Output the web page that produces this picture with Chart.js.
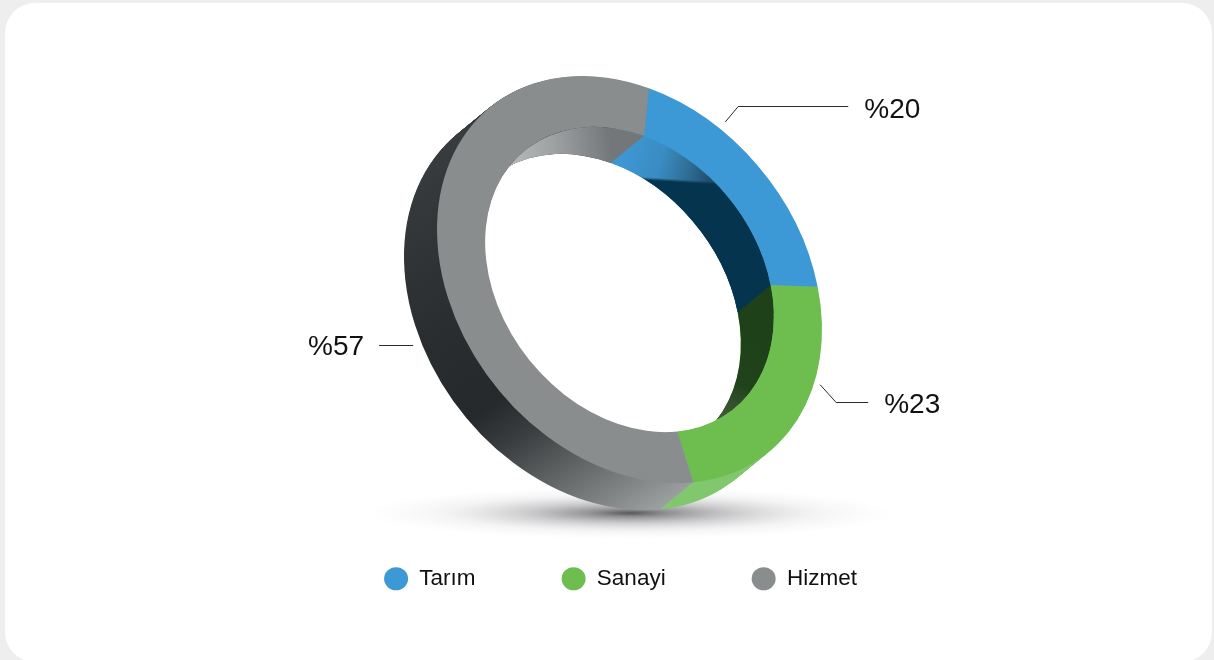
<!DOCTYPE html>
<html lang="tr">
<head>
<meta charset="utf-8">
<title>Tarım Sanayi Hizmet</title>
<script src="https://cdn.jsdelivr.net/npm/chart.js@4/dist/chart.umd.min.js"></script>
<style>
html,body{margin:0;padding:0;width:1214px;height:660px;overflow:hidden;background:#eeeeef;}
#card{position:absolute;left:5px;top:3px;width:1207px;height:659px;background:#fff;border-radius:30px;}
#c{position:absolute;left:27px;top:0;}
</style>
</head>
<body>
<div id="card"></div>
<canvas id="c" width="1187" height="600"></canvas>
<script>
const categories = ['Tarım', 'Sanayi', 'Hizmet'];
const shares = [20, 23, 57];
const sliceColors = ['#3c99d5', '#6ebe4f', '#8a8d8e'];

// ---- look of the tilted ring (style only) ----
const CANVAS_LEFT = 27;
const RING = {x: 629.5, y: 279.5, a: 192.5, b: 50, d: 197.3};
const DEPTH = {x: -33, y: 27, steps: 50};
const leaderFraction = [0.31, 0.332, 0.411];
const leaderOnBack = [false, false, true];
const leaderNudge = [[5, -7], [5, 5], [-9, 0]];
const leaderElbow = [[13, -16], [16, 17], [0, 0]];
const leaderRun = [110, 32, -34];
const labelGap = [16, 16, -15];
const labelDrop = [4, 3, 2];
const LABEL_FONT = '28px "Liberation Sans", Arial, sans-serif';

function lin(ctx, x0, y0, x1, y1, stops) {
  const g = ctx.createLinearGradient(x0, y0, x1, y1);
  stops.forEach(s => g.addColorStop(s[0], s[1]));
  return g;
}
const outerWall = [
  c => [sliceColors[0]],
  c => ['#80c76e'],
  c => [lin(c, 430, 150, 660, 510, [[0, '#383c3e'], [.35, '#2a2e30'], [.58, '#25292b'], [.68, '#3a3e40'], [.8, '#5f6364'], [.9, '#7d8182'], [1, '#9da1a2']])]
];
const innerWall = [
  c => [lin(c, 625, 150, 715, 175, [[0, '#3d97d4'], [.4, '#3a8cc2'], [.7, '#2f6f97'], [1, '#1d4a66']]),
        lin(c, 675.1, 179, 674.9, 182, [[0, 'rgba(5,52,79,0)'], [1, 'rgba(5,52,79,1)']])],
  c => [lin(c, 750, 330, 722, 418, [[0, '#1e4119'], [.6, '#20431b'], [1, '#44593c']])],
  c => [lin(c, 510, 165, 612, 150, [[0, '#b6babb'], [.45, '#9da1a2'], [1, '#74777a']])]
];

function ringTransform(ctx, arc, dx, dy) {
  const R = arc.outerRadius;
  ctx.translate(RING.x + dx - CANVAS_LEFT, RING.y + dy);
  ctx.transform(RING.a / R, RING.b / R, 0, RING.d / R, 0, 0);
  ctx.translate(-arc.x, -arc.y);
}
function ringPoint(arc, angle, back) {
  const u = Math.cos(angle), v = Math.sin(angle);
  return {
    x: RING.x + RING.a * u + (back ? DEPTH.x : 0),
    y: RING.y + RING.b * u + RING.d * v + (back ? DEPTH.y : 0)
  };
}

const ring3d = {
  id: 'ring3d',
  beforeDatasetsDraw(chart) {
    const ctx = chart.ctx, arcs = chart.getDatasetMeta(0).data;
    const W = chart.width, H = chart.height;

    // ground shadow
    ctx.save();
    ctx.translate(630 - CANVAS_LEFT, 513);
    ctx.scale(1, 26 / 265);
    const sh = ctx.createRadialGradient(0, 0, 0, 0, 0, 265);
    sh.addColorStop(0, 'rgba(50,50,55,.82)');
    sh.addColorStop(.15, 'rgba(75,75,80,.6)');
    sh.addColorStop(.4, 'rgba(120,120,125,.36)');
    sh.addColorStop(.7, 'rgba(170,170,175,.13)');
    sh.addColorStop(1, 'rgba(200,200,205,0)');
    ctx.fillStyle = sh;
    ctx.beginPath();
    ctx.arc(0, 0, 265, 0, Math.PI * 2);
    ctx.fill();
    ctx.restore();

    const off = document.createElement('canvas');
    off.width = W; off.height = H;
    const o = off.getContext('2d');

    function sweep(arc, paint) {
      o.setTransform(1, 0, 0, 1, 0, 0);
      o.globalCompositeOperation = 'source-over';
      o.clearRect(0, 0, W, H);
      for (let i = DEPTH.steps; i >= 1; i--) {
        o.save();
        ringTransform(o, arc, DEPTH.x * i / DEPTH.steps, DEPTH.y * i / DEPTH.steps);
        arc.draw(o);
        o.restore();
      }
      o.globalCompositeOperation = 'source-in';
      o.translate(-CANVAS_LEFT, 0);
      o.fillStyle = paint;
      o.fillRect(0, 0, W + CANVAS_LEFT, H);
      o.setTransform(1, 0, 0, 1, 0, 0);
      o.globalCompositeOperation = 'source-over';
    }

    arcs.forEach((arc, i) => {
      outerWall[i](o).forEach(p => { sweep(arc, p); ctx.drawImage(off, 0, 0); });
    });
    ctx.save();
    ctx.beginPath();
    ctx.save();
    ringTransform(ctx, arcs[0], 0, 0);
    ctx.arc(arcs[0].x, arcs[0].y, arcs[0].innerRadius, 0, Math.PI * 2);
    ctx.restore();
    ctx.clip();
    arcs.forEach((arc, i) => {
      innerWall[i](o).forEach(p => { sweep(arc, p); ctx.drawImage(off, 0, 0); });
    });
    ctx.restore();

    // front face: the library draws the arcs under this transform
    ctx.save();
    ringTransform(ctx, arcs[0], 0, 0);
  },
  afterDatasetsDraw(chart) {
    const ctx = chart.ctx, arcs = chart.getDatasetMeta(0).data;
    ctx.restore();
    ctx.save();
    ctx.translate(-CANVAS_LEFT, 0);
    ctx.strokeStyle = '#2a2a2a';
    ctx.lineWidth = 1;
    ctx.fillStyle = '#111';
    ctx.font = LABEL_FONT;
    ctx.textBaseline = 'middle';
    arcs.forEach((arc, i) => {
      const ang = arc.startAngle + (arc.endAngle - arc.startAngle) * leaderFraction[i];
      const p = ringPoint(arc, ang, leaderOnBack[i]);
      p.x += leaderNudge[i][0];
      p.y += leaderNudge[i][1];
      const ex = p.x + leaderElbow[i][0], ey = Math.round(p.y + leaderElbow[i][1]) + .5;
      const qx = ex + leaderRun[i];
      ctx.beginPath();
      ctx.moveTo(p.x, leaderElbow[i][1] ? p.y : ey);
      ctx.lineTo(ex, ey);
      ctx.lineTo(qx, ey);
      ctx.stroke();
      ctx.textAlign = labelGap[i] < 0 ? 'right' : 'left';
      ctx.fillText('%' + shares[i], qx + labelGap[i], ey + labelDrop[i]);
    });
    ctx.restore();
  }
};

new Chart(document.getElementById('c'), {
  type: 'doughnut',
  data: {
    labels: categories,
    datasets: [{
      data: shares,
      backgroundColor: sliceColors,
      borderWidth: 0,
      clip: false
    }]
  },
  options: {
    responsive: false,
    devicePixelRatio: 1,
    animation: false,
    events: [],
    rotation: 5.8,
    cutout: '75%',
    layout: {padding: 0},
    plugins: {
      tooltip: {enabled: false},
      legend: {
        display: true,
        position: 'bottom',
        labels: {
          usePointStyle: true,
          pointStyle: 'circle',
          pointStyleWidth: 24,
          boxHeight: 16.3,
          padding: 86,
          color: '#111',
          font: {family: '"Liberation Sans", Arial, sans-serif', size: 22.5}
        }
      }
    }
  },
  plugins: [ring3d]
});
</script>
</body>
</html>
